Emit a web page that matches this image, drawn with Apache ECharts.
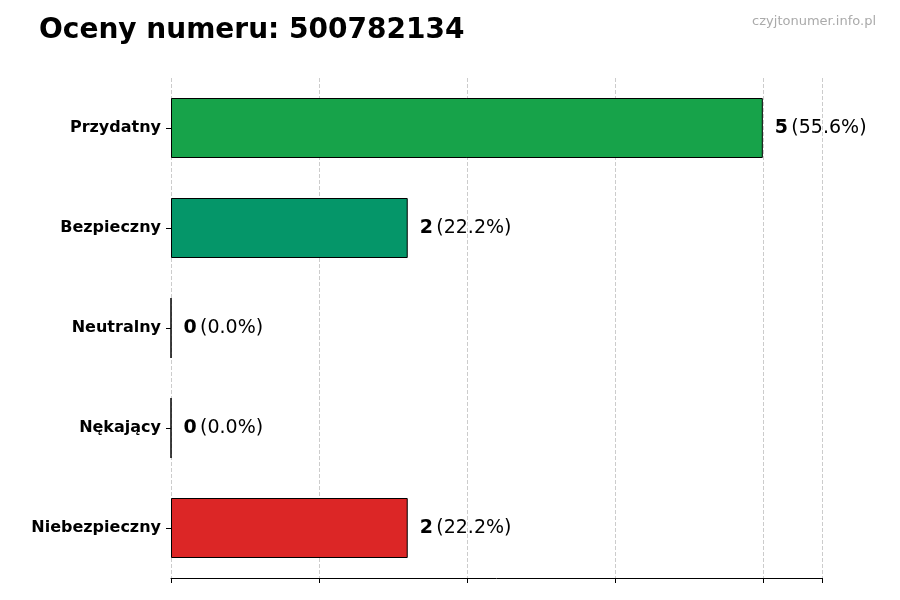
<!DOCTYPE html>
<html><head><meta charset="utf-8">
<script src="https://cdn.jsdelivr.net/npm/echarts@6/dist/echarts.min.js"></script>
<style>html,body{margin:0;padding:0;background:#fff}#c{width:900px;height:600px}</style>
</head><body><div id="c"></div>
<script>
const categories = ['Przydatny', 'Bezpieczny', 'Neutralny', 'Nękający', 'Niebezpieczny'];
const counts = [5, 2, 0, 0, 2];
const percents = ['55.6%', '22.2%', '0.0%', '0.0%', '22.2%'];
const colors = ['#17a34a', '#059669', '#7f7f7f', '#7f7f7f', '#dc2626'];

const chart = echarts.init(document.getElementById('c'));
chart.setOption({
  animation: false,
  title: [
    { text: 'Oceny numeru: 500782134', left: 34, top: 12,
      textStyle: { fontFamily: 'DejaVu Sans', fontSize: 28, fontWeight: 'bold', color: '#000' } },
    { text: 'czyjtonumer.info.pl', right: 19, top: 10,
      textStyle: { fontFamily: 'DejaVu Sans', fontSize: 13, fontWeight: 'normal', color: '#aaa' } }
  ],
  grid: { left: 171, right: 78, top: 78, bottom: 22 },
  xAxis: {
    type: 'value', min: 0, max: 5.5, interval: 1.25,
    axisLabel: { show: false },
    axisLine: { show: true, lineStyle: { color: '#000' } },
    axisTick: { show: true, length: 5, lineStyle: { color: '#000' } },
    splitLine: { show: true, lineStyle: { type: 'dashed', color: '#ccc' } }
  },
  yAxis: {
    type: 'category', data: categories, inverse: true,
    axisLine: { show: false },
    axisTick: { show: true, alignWithLabel: true, length: 5, lineStyle: { color: '#000' } },
    axisLabel: { fontFamily: 'DejaVu Sans', fontSize: 16, fontWeight: 'bold', color: '#000', margin: 10 }
  },
  series: [{
    type: 'bar', barWidth: '60%',
    data: counts.map((v, i) => ({
      value: v,
      itemStyle: { color: colors[i], borderColor: '#000', borderWidth: 1 }
    })),
    label: {
      show: true, position: 'right', distance: 12,
      formatter: p => '{b|' + counts[p.dataIndex] + '} {n|(' + percents[p.dataIndex] + ')}',
      rich: {
        b: { fontFamily: 'DejaVu Sans', fontSize: 19, fontWeight: 'bold', color: '#000' },
        n: { fontFamily: 'DejaVu Sans', fontSize: 19, color: '#000' }
      }
    }
  }]
});
</script></body></html>
